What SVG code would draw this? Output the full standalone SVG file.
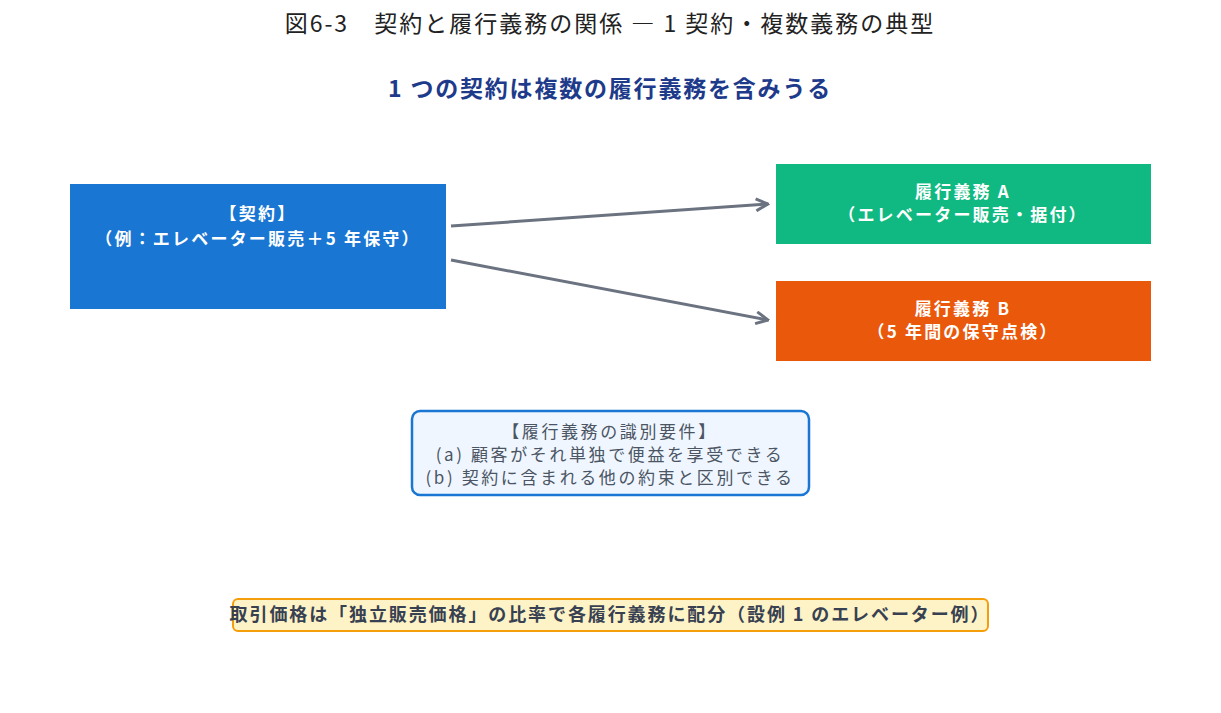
<svg xmlns="http://www.w3.org/2000/svg" width="1221" height="713" viewBox="0 0 1221 713">
<style>
text{font-family:"Noto Sans CJK JP","Noto Sans",sans-serif;text-anchor:middle}
.w{fill:#fff;font-weight:bold;font-size:17px;letter-spacing:2.2px}
.c{stroke:#6b7280;stroke-width:3;fill:none;marker-end:url(#a)}
</style>
<defs><marker id="a" viewBox="0 0 10 10" refX="9" refY="5" markerWidth="5" markerHeight="5" orient="auto"><path d="M1,1 L9,5 L1,9" fill="none" stroke="#6b7280" stroke-width="2"/></marker></defs>
<rect width="1221" height="713" fill="#fff"/>
<text x="610" y="32" font-size="23" letter-spacing="2" fill="#222">図6-3　契約と履行義務の関係 ― 1 契約・複数義務の典型</text>
<text x="610" y="97" font-size="23" letter-spacing="1.8" font-weight="bold" fill="#1e3a8a">1 つの契約は複数の履行義務を含みうる</text>
<g id="connectors">
<line class="c" x1="451" y1="226" x2="768" y2="204"/>
<line class="c" x1="451" y1="260" x2="768" y2="320"/>
</g>
<g id="contract"><rect x="70" y="184" width="376" height="125" fill="#1976d2"/>
<text class="w" x="258" y="220">【契約】</text><text class="w" x="258" y="245" letter-spacing="3">（例：エレベーター販売＋5 年保守）</text></g>
<g id="obA"><rect x="776" y="164" width="375" height="80" fill="#10b981"/>
<text class="w" x="963" y="198">履行義務 A</text><text class="w" x="963" y="221">（エレベーター販売・据付）</text></g>
<g id="obB"><rect x="776" y="281" width="375" height="80" fill="#ea580c"/>
<text class="w" x="963" y="315">履行義務 B</text><text class="w" x="963" y="338">（5 年間の保守点検）</text></g>
<g id="req"><rect x="412" y="411" width="397" height="84" rx="8" fill="#eff6ff" stroke="#1976d2" stroke-width="2.5"/>
<g font-size="17" letter-spacing="2.6" fill="#4b5563"><text x="610" y="438">【履行義務の識別要件】</text><text x="610" y="461">(a) 顧客がそれ単独で便益を享受できる</text><text x="610" y="484">(b) 契約に含まれる他の約束と区別できる</text></g></g>
<g id="note"><rect x="233" y="599" width="755" height="32" rx="5" fill="#fef3c7" stroke="#f59e0b" stroke-width="2"/>
<text x="610" y="621" font-size="18" letter-spacing="1.9" font-weight="bold" fill="#374151">取引価格は「独立販売価格」の比率で各履行義務に配分（設例 1 のエレベーター例）</text></g>
</svg>
